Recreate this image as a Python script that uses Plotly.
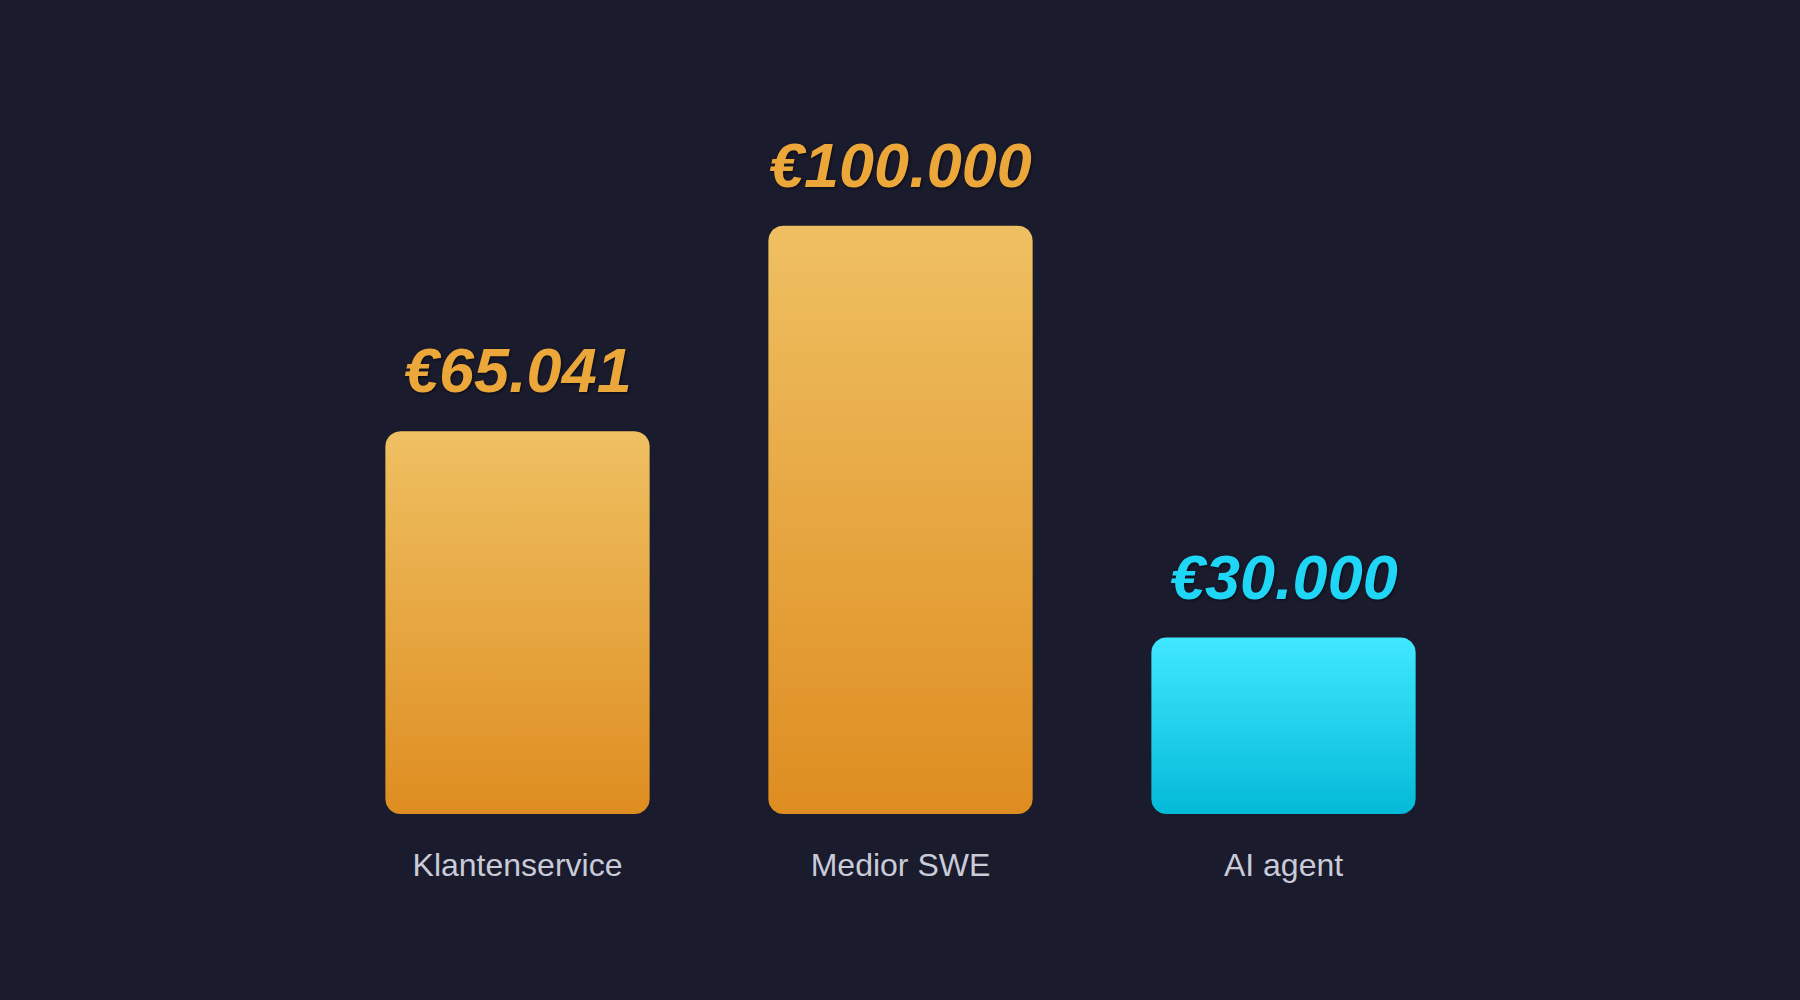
import numpy as np
import plotly.graph_objects as go

categories = ["Klantenservice", "Medior SWE", "AI agent"]
values = [65041, 100000, 30000]
value_labels = ["€65.041", "€100.000", "€30.000"]

# bovenkant / onderkant van het verloop per balk
grad_top = ["#EFC062", "#EFC062", "#40E8FF"]
grad_bottom = ["#DE8D20", "#DE8D20", "#04BAD8"]
label_colors = ["#EBA73A", "#EBA73A", "#1FD6F6"]

BG = "#1A1B2D"
Y_MAX = 120000
HALF_W = 0.345
RX = 15 / 383      # hoekradius in x-eenheden (~15 px)
RY = 15 / 0.00588  # hoekradius in y-eenheden (~15 px)


def rounded_bar(xc, h):
    # afgeronde rechthoek van 0 tot h rond xc
    x0, x1 = xc - HALF_W, xc + HALF_W
    t = np.linspace(0, np.pi / 2, 12)
    xs, ys = [], []
    # rechtsonder -> rechtsboven -> linksboven -> linksonder
    for cx, cy, a0 in [(x1 - RX, RY, -np.pi / 2), (x1 - RX, h - RY, 0),
                       (x0 + RX, h - RY, np.pi / 2), (x0 + RX, RY, np.pi)]:
        xs += list(cx + RX * np.cos(a0 + t))
        ys += list(cy + RY * np.sin(a0 + t))
    xs.append(xs[0])
    ys.append(ys[0])
    return xs, ys


fig = go.Figure()

for i, (cat, v) in enumerate(zip(categories, values)):
    xs, ys = rounded_bar(i, v)
    fig.add_trace(go.Scatter(
        x=xs, y=ys,
        mode="lines",
        line=dict(width=0),
        fill="toself",
        fillgradient=dict(
            type="vertical",
            colorscale=[[0, grad_bottom[i]], [1, grad_top[i]]],
        ),
        hoverinfo="text",
        text=f"{cat}: {value_labels[i]}",
        showlegend=False,
    ))
    fig.add_annotation(
        x=i, y=v,
        text=f"<b><i>{value_labels[i]}</i></b>",
        showarrow=False,
        yanchor="bottom",
        yshift=24,
        font=dict(family="Liberation Sans, Arial, sans-serif", size=63,
                  color=label_colors[i], shadow="1px 1px 3px rgba(0,0,0,0.6)"),
    )

fig.update_xaxes(
    range=[-0.5, 2.5],
    tickvals=list(range(len(categories))),
    ticktext=categories,
    showgrid=False,
    zeroline=False,
    showline=False,
    ticks="",
    ticklabelstandoff=29,
    tickfont=dict(family="Liberation Sans, Arial, sans-serif", size=32, color="#C9CBD8"),
    fixedrange=True,
)
fig.update_yaxes(
    range=[0, Y_MAX],
    visible=False,
    fixedrange=True,
)

fig.update_layout(
    width=1800,
    height=1000,
    paper_bgcolor=BG,
    plot_bgcolor=BG,
    margin=dict(l=326, r=325, t=108, b=186),
    showlegend=False,
)

fig.write_html(
    "out.html",
    config={"displayModeBar": False},
    post_script=f"document.body.style.margin='0';document.body.style.background='{BG}';",
)
